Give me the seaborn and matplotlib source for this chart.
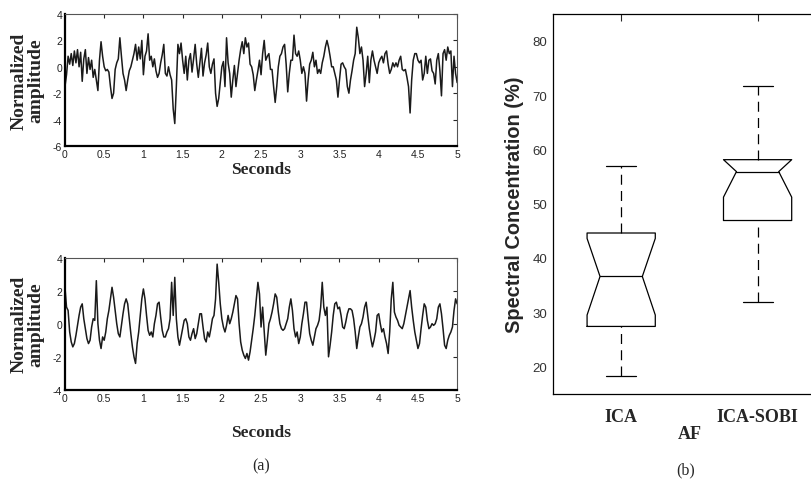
import numpy as np
import matplotlib
matplotlib.use("Agg")
import matplotlib.pyplot as plt
import seaborn as sns
from matplotlib.ticker import FormatStrFormatter

# ---- panel (a): two normalized signals, every 0.02 s ----
sig_top = [
    -1.5, -0.6, 0.8, 0.2, 1.0, 0.1, 1.2, 0.3, 1.3, 0.0, 1.1,
    -1.1, 0.6, 1.3, -0.5, 0.7, -0.2, 0.5, -0.8, -0.2, -1.0,
    -1.8, 0.5, 1.9, 0.8, 0.0, -0.3, -0.2, -0.4, -1.5, -2.4,
    -2.0, -0.2, 0.3, 0.6, 2.2, 0.8, -0.5, -1.0, -1.8, -1.0,
    -0.3, 0.0, 0.5, 1.0, 1.7, 0.5, 1.5, 0.6, 2.0, -0.6,
    0.8, 1.2, 2.5, 0.5, 0.8, 0.0, 0.6, -0.3, -0.8, -0.5,
    0.3, 0.9, 1.7, -0.5, -0.7, 0.0, -0.6, -1.0, -3.2, -4.3,
    -1.5, 1.7, 1.0, 1.8, 0.5, -0.5, 0.8, -1.0, 0.5, 1.0,
    -0.4, 0.6, 1.7, 0.2, -0.8, 0.3, 1.4, -0.7, 0.3, 0.9,
    1.8, 0.0, -0.5, 0.2, 0.6, -2.0, -3.0, -2.4, -1.2, 0.0,
    0.4, -1.5, 2.2, 0.3, -0.5, -2.3, -1.0, 0.1, -1.5, -0.5,
    0.5, 1.3, 1.9, 1.0, 2.2, 1.5, 1.8, 0.2, 0.0, -0.6,
    -1.8, -1.0, -0.3, 0.5, -0.6, 1.0, 2.0, 0.5, 0.8, 1.0,
    -0.2, -0.2, -1.5, -2.7, -1.5, 0.0, 0.8, 1.0, 1.5, 1.7,
    0.2, -1.9, -0.5, 0.5, 0.5, 2.4, 1.0, 0.8, 1.2, 0.5,
    -0.5, 0.0, -0.5, -2.6, -1.0, 0.2, 0.5, 1.1, 0.0, 0.5,
    -0.5, -0.2, -0.5, 0.3, 0.8, 1.5, 2.0, 1.5, 0.8, 0.0,
    0.0, -0.5, -1.0, -2.3, -1.0, 0.2, 0.3, 0.0, -0.2, -1.5,
    -2.0, -1.0, -0.3, 0.5, 1.0, 3.0, 2.2, 1.0, 1.5, 0.5,
    -1.5, -0.5, 0.8, -1.2, 0.5, 1.2, 0.5, 0.0, -0.5, 0.3,
    0.6, 0.8, 0.3, 1.0, 1.2, 0.2, -0.5, -0.2, 0.3, 0.0,
    0.3, 0.0, 0.5, 0.8, -0.2, -0.3, -0.2, -0.8, -1.5, -3.5,
    -1.0, 0.5, 1.0, 1.0, 0.5, 0.3, 0.5, -1.0, -0.5, 0.8,
    -0.5, 0.5, 0.6, -0.3, -0.5, -1.3, 0.5, 1.0, -0.3, -2.2,
    1.0, 1.3, 0.5, 1.5, 1.0, 1.2, -1.5, 0.8, -0.5, -1.2,
]
sig_bottom = [
    2.2, 1.0, 0.8, -0.5, -1.1, -1.4, -1.2, -0.7, -0.1, 0.5, 1.0,
    1.2, 0.3, -0.3, -0.9, -1.2, -1.0, -0.2, 0.3, 0.2, 2.6,
    0.0, -1.0, -1.5, -0.8, -1.0, -0.5, 0.3, 0.8, 1.5, 2.2,
    1.6, 0.8, 0.0, -0.6, -0.8, -0.1, 0.6, 1.2, 1.5, 1.2,
    0.3, -0.6, -1.4, -2.0, -2.4, -1.2, -0.5, 0.5, 1.5, 2.1,
    1.5, 0.5, -0.4, -0.7, -0.5, -0.8, 0.0, 0.5, 1.2, 1.3,
    0.4, -0.4, -0.8, -0.8, -0.5, -0.3, 0.3, 2.5, 0.5, 2.8,
    0.3, -0.8, -1.3, -0.8, -0.3, 0.2, 0.3, 0.0, -0.8, -1.0,
    -0.6, -0.3, -0.9, -0.6, 0.0, 0.6, 0.6, -0.2, -0.9, -1.1,
    -0.5, -0.8, -0.3, 0.3, 0.5, 1.5, 3.6, 2.5, 1.2, 0.3,
    -0.2, -0.5, -0.1, 0.5, 0.0, 0.3, 0.7, 1.2, 1.7, 1.5,
    0.0, -1.1, -1.6, -1.9, -2.1, -1.8, -2.2, -1.7, -1.0, -0.3,
    0.5, 1.5, 2.5, 1.8, -0.2, 1.0, -0.5, -1.9, -1.0, 0.0,
    0.3, 0.7, 1.2, 1.8, 1.6, 0.7, 0.0, -0.3, -0.4, -0.3,
    0.0, 0.3, 1.0, 1.5, 0.8, -0.3, -0.8, -0.5, -1.2, -0.8,
    0.0, 0.6, 1.3, 1.3, 0.3, -0.6, -1.0, -1.3, -0.8, -0.3,
    -0.1, 0.2, 1.0, 2.5, 1.0, 0.5, 1.0, -2.0, -1.3, -0.5,
    0.5, 1.2, 1.3, 0.9, 1.0, 0.5, -0.2, -0.3, 0.1, 0.6,
    0.9, 0.9, 0.8, 0.3, -0.5, -1.5, -0.8, -0.2, 0.0, 0.4,
    1.0, 1.3, 0.5, -0.3, -0.9, -1.4, -1.0, -0.5, 0.5, 0.6,
    0.0, -0.5, -0.3, -0.8, -1.2, -1.8, -0.5, 1.5, 2.5, 0.7,
    0.4, 0.2, -0.1, -0.2, -0.3, 0.0, 0.5, 1.0, 1.5, 2.0,
    1.0, 0.2, -0.5, -1.0, -1.5, -1.2, -0.3, 0.5, 1.2, 1.0,
    0.2, -0.3, -0.2, 0.0, -0.1, 0.0, 0.3, 1.0, 1.2, 0.6,
    -0.3, -1.3, -1.5, -1.0, -0.7, -0.5, -0.2, 0.8, 1.5, 1.2,
]
sec_ticks = [0, 0.5, 1, 1.5, 2, 2.5, 3, 3.5, 4, 4.5, 5]
top_yticks = [-6, -4, -2, 0, 2, 4]
bottom_yticks = [-4, -2, 0, 2, 4]

# ---- panel (b): notched box plot of spectral concentration (AF) ----
methods = ["ICA", "ICA-SOBI"]
whisk_lo = [18.3, 31.9]
q1 = [27.4, 46.9]
med = [36.6, 55.9]
q3 = [44.6, 58.1]
whisk_hi = [57.0, 71.7]
notch_lo = [29.5, 51.2]
notch_hi = [43.6, 58.1]
conc_ticks = [20, 30, 40, 50, 60, 70, 80]

sns.set_style("white")
plt.rcParams["font.family"] = ["Liberation Sans", "DejaVu Sans"]
plt.rcParams["axes.unicode_minus"] = False

serif = ["Liberation Serif", "DejaVu Serif"]
sans = ["Liberation Sans", "DejaVu Sans"]

fig = plt.figure(figsize=(8.12, 4.85), dpi=100)
ax_top = fig.add_axes([0.080, 0.697, 0.483, 0.272])
ax_bot = fig.add_axes([0.080, 0.194, 0.483, 0.273])
ax_box = fig.add_axes([0.681, 0.186, 0.336, 0.784])


def signal_panel(ax, sig, yticks, xpad):
    t = np.linspace(0, 5, len(sig))
    sns.lineplot(x=t, y=sig, ax=ax, color="#1a1a1a", lw=1.1)
    ax.set_xlim(0, 5)
    ax.set_ylim(yticks[0], yticks[-1])
    ax.set_xticks(sec_ticks)
    ax.set_yticks(yticks)
    ax.xaxis.set_major_formatter(FormatStrFormatter("%g"))
    ax.tick_params(direction="in", top=True, right=True, length=3,
                   width=0.8, labelsize=7.5, labelcolor="#222222", pad=2)
    for side in ["top", "right"]:
        ax.spines[side].set_linewidth(0.8)
        ax.spines[side].set_color("#555555")
    for side in ["bottom", "left"]:
        ax.spines[side].set_linewidth(1.6)
        ax.spines[side].set_color("black")
    ax.set_xlabel("Seconds", family=serif, fontweight="bold", fontsize=12.5,
                  labelpad=xpad)
    ax.set_ylabel("Normalized\namplitude", family=serif, fontweight="bold",
                  fontsize=14, linespacing=0.95, labelpad=6)


signal_panel(ax_top, sig_top, top_yticks, 1.5)
signal_panel(ax_bot, sig_bottom, bottom_yticks, 15)

# notched boxes, Matlab style
bw, nw, cw = 0.25, 0.155, 0.11
for i, name in enumerate(methods):
    p = i + 1
    xs = [p - bw, p + bw, p + bw, p + nw, p + bw, p + bw,
          p - bw, p - bw, p - nw, p - bw, p - bw]
    ys = [q1[i], q1[i], notch_lo[i], med[i], notch_hi[i], q3[i],
          q3[i], notch_hi[i], med[i], notch_lo[i], q1[i]]
    ax_box.plot(xs, ys, color="black", lw=0.9)
    ax_box.plot([p - nw, p + nw], [med[i], med[i]], color="black", lw=0.9)
    ax_box.plot([p, p], [q3[i], whisk_hi[i]], color="black", lw=0.9,
                ls=(0, (8, 5)))
    ax_box.plot([p, p], [whisk_lo[i], q1[i]], color="black", lw=0.9,
                ls=(0, (8, 5)))
    for v in [whisk_lo[i], whisk_hi[i]]:
        ax_box.plot([p - cw, p + cw], [v, v], color="black", lw=0.9)

ax_box.set_xlim(0.5, 2.5)
ax_box.set_ylim(15, 85)
ax_box.set_xticks([1, 2])
ax_box.set_xticklabels(methods, family=serif, fontweight="bold", fontsize=13)
ax_box.set_yticks(conc_ticks)
ax_box.tick_params(axis="x", direction="in", top=True, length=5, width=0.8,
                   pad=10)
ax_box.tick_params(axis="y", length=0, labelsize=9.5, labelcolor="#333333",
                   pad=4)
for side in ax_box.spines.values():
    side.set_linewidth(0.9)
    side.set_color("black")
ax_box.set_xlabel("AF", family=serif, fontweight="bold", fontsize=13,
                  labelpad=0)
ax_box.set_ylabel("Spectral Concentration (%)", family=sans,
                  fontweight="bold", fontsize=14.4, labelpad=6)

fig.text(0.322, 0.038, "(a)", family=serif, fontsize=11.5,
         ha="center", va="center")
fig.text(0.8445, 0.031, "(b)", family=serif, fontsize=11.5,
         ha="center", va="center")

fig.savefig("out.png", dpi=100)
